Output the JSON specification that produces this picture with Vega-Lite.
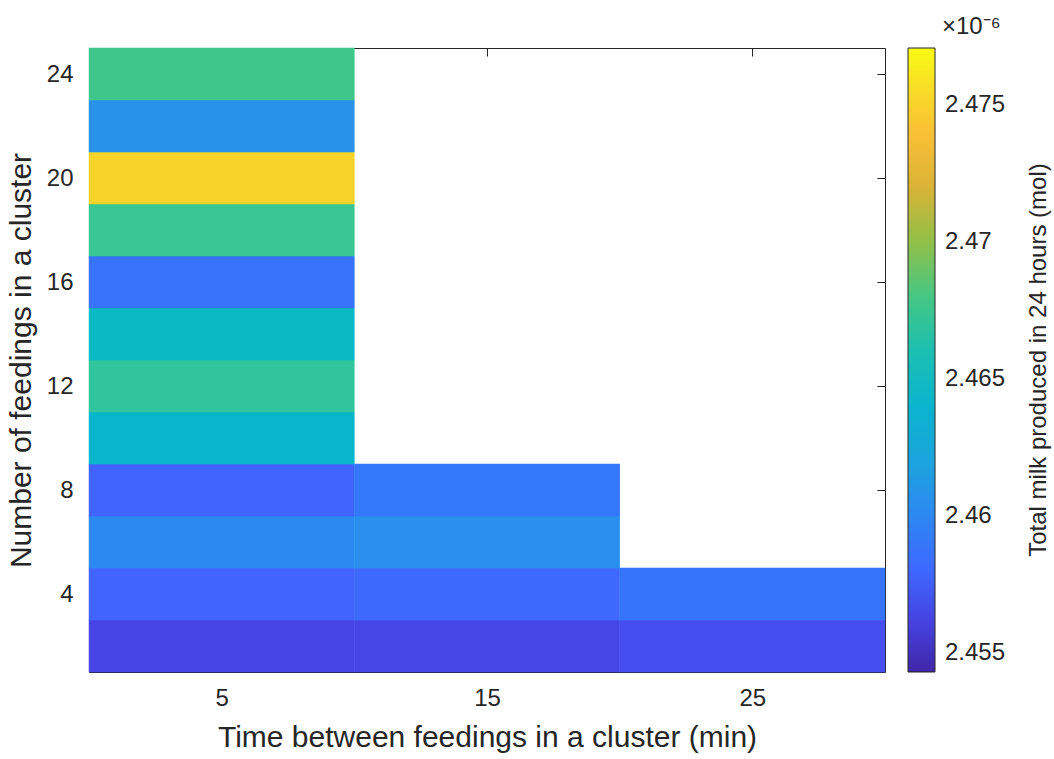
{
  "$schema": "https://vega.github.io/schema/vega-lite/v6.json",
  "autosize": {"type": "none"},
  "padding": {"left": 89, "top": 48, "right": 169, "bottom": 87},
  "width": 796,
  "height": 624,
  "background": "white",
  "config": {
    "font": "Liberation Sans",
    "view": {"stroke": null},
    "axis": {"grid": false, "domain": true, "domainColor": "#262626", "domainWidth": 1, "zindex": 1, "labelColor": "#262626", "titleColor": "#262626", "tickColor": "#262626", "labelFont": "Liberation Sans", "titleFont": "Liberation Sans", "titleFontWeight": "normal"}
  },
  "title": {"text": "×10⁻⁶", "anchor": "start", "frame": "group", "dx": 853, "offset": 9, "fontSize": 24, "fontWeight": "normal", "color": "#262626", "font": "Liberation Sans"},
  "data": {"values": [
    {"time": 5, "feedings": 2, "milk": 2.4563e-6},
    {"time": 15, "feedings": 2, "milk": 2.4564e-6},
    {"time": 25, "feedings": 2, "milk": 2.4568e-6},
    {"time": 5, "feedings": 4, "milk": 2.4578e-6},
    {"time": 15, "feedings": 4, "milk": 2.4581e-6},
    {"time": 25, "feedings": 4, "milk": 2.4588e-6},
    {"time": 5, "feedings": 6, "milk": 2.4601e-6},
    {"time": 15, "feedings": 6, "milk": 2.4605e-6},
    {"time": 5, "feedings": 8, "milk": 2.4578e-6},
    {"time": 15, "feedings": 8, "milk": 2.4590e-6},
    {"time": 5, "feedings": 10, "milk": 2.4645e-6},
    {"time": 5, "feedings": 12, "milk": 2.4670e-6},
    {"time": 5, "feedings": 14, "milk": 2.4652e-6},
    {"time": 5, "feedings": 16, "milk": 2.4587e-6},
    {"time": 5, "feedings": 18, "milk": 2.4674e-6},
    {"time": 5, "feedings": 20, "milk": 2.4752e-6},
    {"time": 5, "feedings": 22, "milk": 2.4607e-6},
    {"time": 5, "feedings": 24, "milk": 2.4677e-6}
  ]},
  "resolve": {"axis": {"x": "independent", "y": "independent"}},
  "layer": [
    {
      "mark": {"type": "rect", "width": 265.8, "height": 52.4},
      "encoding": {
        "x": {"field": "time", "type": "quantitative", "scale": {"domain": [0, 30], "nice": false, "zero": false},
          "axis": {"values": [5, 15, 25], "title": "Time between feedings in a cluster (min)", "labelFontSize": 24, "titleFontSize": 30, "tickSize": -8, "labelPadding": 22, "titlePadding": 12}},
        "y": {"field": "feedings", "type": "quantitative", "scale": {"domain": [1, 25], "nice": false, "zero": false},
          "axis": {"values": [4, 8, 12, 16, 20, 24], "title": "Number of feedings in a cluster", "labelFontSize": 24, "titleFontSize": 30, "tickSize": -8, "labelPadding": 24, "titlePadding": 10}},
        "color": {"field": "milk", "type": "quantitative",
          "scale": {"interpolate": "rgb",
                    "domain": [2.4543e-6, 2.4555e-6, 2.4565e-6, 2.4578e-6, 2.4590e-6, 2.4600e-6, 2.4615e-6, 2.4630e-6, 2.4650e-6, 2.4670e-6, 2.4685e-6, 2.4700e-6, 2.4715e-6, 2.4730e-6, 2.4750e-6, 2.4771e-6],
                    "range": ["#3e26a8", "#4538d0", "#4748ea", "#4064fd", "#3478fa", "#2d88f2", "#229ee2", "#0eb0d4", "#05b8c8", "#30c59c", "#50c878", "#90c048", "#c8b432", "#fbb03f", "#f8d02d", "#f9fb15"]},
          "legend": {
            "orient": "none", "legendX": 819, "legendY": 0, "direction": "vertical",
            "gradientLength": 624, "gradientThickness": 27, "gradientStrokeColor": "#262626", "gradientStrokeWidth": 1,
            "values": [2.455e-6, 2.46e-6, 2.465e-6, 2.47e-6, 2.475e-6],
            "labelExpr": "format(datum.value * 1e6, '.3~f')",
            "labelFontSize": 24, "labelColor": "#262626", "labelOffset": 10, "labelOverlap": false, "labelFont": "Liberation Sans",
            "title": "Total milk produced in 24 hours (mol)", "titleOrient": "right", "titleLimit": 800, "titleFontSize": 24, "titleFontWeight": "normal", "titleColor": "#262626", "titleFont": "Liberation Sans", "titlePadding": 22, "titleAnchor": "middle",
            "encode": {"title": {"update": {"angle": {"value": -90}, "baseline": {"value": "top"}}}}
          }
        }
      }
    },
    {
      "mark": {"type": "rule", "opacity": 0},
      "encoding": {
        "x": {"field": "time", "type": "quantitative", "axis": {"orient": "top", "values": [5, 15, 25], "labels": false, "title": null, "tickSize": -8}},
        "y": {"field": "feedings", "type": "quantitative", "axis": {"orient": "right", "values": [4, 8, 12, 16, 20, 24], "labels": false, "title": null, "tickSize": -8}}
      }
    }
  ]
}
